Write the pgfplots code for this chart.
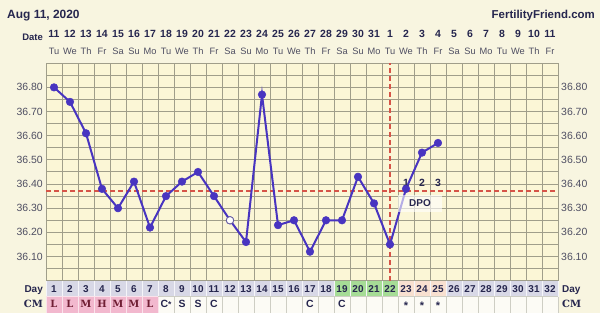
\documentclass[border=0pt]{standalone}
\usepackage{pgfplots}
\pgfplotsset{compat=1.18}
\usepackage{fontspec}
\setmainfont{Liberation Sans}
\newfontfamily\slab{DejaVu Serif}
\definecolor{bgc}{RGB}{248,245,224}
\definecolor{plotbg}{RGB}{251,246,214}
\definecolor{gridc}{RGB}{160,158,138}
\definecolor{linec}{RGB}{72,52,192}
\definecolor{redc}{RGB}{214,84,72}
\definecolor{navy}{RGB}{38,38,78}
\definecolor{grayt}{RGB}{78,78,98}
\definecolor{dayc}{RGB}{216,216,230}
\definecolor{greenc}{RGB}{166,220,150}
\definecolor{peachc}{RGB}{248,224,208}
\definecolor{pinkc}{RGB}{242,184,206}
\definecolor{cmw}{RGB}{252,251,245}
\definecolor{cellb}{RGB}{206,206,196}
\definecolor{maroon}{RGB}{112,30,52}
\begin{document}
\begin{tikzpicture}
\fill[bgc] (0,0) rectangle (600bp,313bp);
\path[use as bounding box] (0,0) rectangle (600bp,313bp);
\node[anchor=base west, inner sep=0, text=navy, font=\bfseries\fontsize{12}{14}\selectfont] at (7bp,294bp) {Aug 11, 2020};
\node[anchor=base east, inner sep=0, text=navy, font=\bfseries\fontsize{11.5}{14}\selectfont] at (595bp,294bp) {FertilityFriend.com};
% table rows (decoration)
\fill[dayc] (46bp,16.3bp) rectangle (558bp,32.3bp);
\fill[greenc] (334bp,16.3bp) rectangle (398bp,32.3bp);
\fill[peachc] (398bp,16.3bp) rectangle (446bp,32.3bp);
\fill[cmw] (46bp,0bp) rectangle (558bp,16.3bp);
\fill[pinkc] (46bp,0bp) rectangle (158bp,16.3bp);
\foreach \i in {0,...,32}{
  \draw[white!75!dayc, line width=0.9bp] ({46bp+16bp*\i},16.3bp) -- ({46bp+16bp*\i},32.3bp);
}
\foreach \i in {0,...,7}{
  \draw[white!60!pinkc, line width=0.9bp] ({46bp+16bp*\i},0bp) -- ({46bp+16bp*\i},16.3bp);
}
\foreach \i in {8,...,32}{
  \draw[cellb, line width=0.9bp] ({46bp+16bp*\i},0bp) -- ({46bp+16bp*\i},16.3bp);
}
\draw[cellb, line width=0.9bp] (158bp,16.3bp) -- (558bp,16.3bp);
\draw[white!60!pinkc, line width=0.9bp] (46bp,16.3bp) -- (158bp,16.3bp);
\begin{axis}[
  at={(46bp,32.3bp)}, anchor=south west,
  scale only axis, width=512bp, height=217.5bp,
  xmin=0.5, xmax=32.5, ymin=36, ymax=36.9,
  clip=false,
  axis background/.style={fill=plotbg},
  axis line style={draw=gridc, line width=1bp},
  xtick={0.5,1.5,...,32.5}, xticklabels={},
  ytick={36,36.05,...,36.9}, yticklabels={},
  major tick length=0,
  grid=major, grid style={draw=gridc, line width=1bp},
]
% reference lines
\addplot[redc, line width=2.4bp, dash pattern=on 5bp off 3bp] coordinates {(0.5,36.37) (32.5,36.37)};
\addplot[redc, line width=2.6bp, dash pattern=on 5bp off 3bp] coordinates {(22,36) (22,36.9)};
% temperatures
\addplot[linec, line width=2bp, mark=*, mark size=3.8bp, mark options={fill=linec, draw=linec, line width=0.5bp}] coordinates {
(1,36.80) (2,36.74) (3,36.61) (4,36.38) (5,36.30) (6,36.41) (7,36.22) (8,36.35)
(9,36.41) (10,36.45) (11,36.35) (12,36.25) (13,36.16) (14,36.77) (15,36.23) (16,36.25)
(17,36.12) (18,36.25) (19,36.25) (20,36.43) (21,36.32) (22,36.15) (23,36.38) (24,36.53) (25,36.57)
};
\addplot[only marks, mark=*, mark size=3.7bp, mark options={fill=white, draw=linec!45!gray, line width=0.8bp}] coordinates {(12,36.25)};
% DPO box and labels
\node[fill=white, fill opacity=0.6, text opacity=1, minimum width=44bp, minimum height=17bp, inner sep=0, text=navy, font=\bfseries\fontsize{10}{12}\selectfont] at (axis cs:23.875,36.32) {DPO};
\node[anchor=base, inner sep=0, text=navy, font=\bfseries\fontsize{10.5}{12}\selectfont] at ([yshift=4.7bp]axis cs:23,36.37) {1};
\node[anchor=base, inner sep=0, text=navy, font=\bfseries\fontsize{10.5}{12}\selectfont] at ([yshift=4.7bp]axis cs:24,36.37) {2};
\node[anchor=base, inner sep=0, text=navy, font=\bfseries\fontsize{10.5}{12}\selectfont] at ([yshift=4.7bp]axis cs:25,36.37) {3};
% y labels
\pgfplotsinvokeforeach{36.10,36.20,36.30,36.40,36.50,36.60,36.70,36.80}{
  \node[anchor=east, inner sep=0, text=grayt, font=\fontsize{10.5}{12}\selectfont] at ([xshift=-3bp]axis cs:0.5,#1) {#1};
  \node[anchor=west, inner sep=0, text=grayt, font=\fontsize{10.5}{12}\selectfont] at ([xshift=3bp]axis cs:32.5,#1) {#1};
}
\end{axis}
% top date rows
\node[anchor=base east, inner sep=0, text=navy, font=\bfseries\fontsize{9.5}{11}\selectfont] at (43bp,272bp) {Date};
\foreach \d/\n/\w in {1/11/Tu,2/12/We,3/13/Th,4/14/Fr,5/15/Sa,6/16/Su,7/17/Mo,8/18/Tu,9/19/We,10/20/Th,11/21/Fr,12/22/Sa,13/23/Su,14/24/Mo,15/25/Tu,16/26/We,17/27/Th,18/28/Fr,19/29/Sa,20/30/Su,21/31/Mo,22/1/Tu,23/2/We,24/3/Th,25/4/Fr,26/5/Sa,27/6/Su,28/7/Mo,29/8/Tu,30/9/We,31/10/Th,32/11/Fr}{
  \node[anchor=base, inner sep=0, text=navy, font=\bfseries\fontsize{10.5}{12}\selectfont] at ({38bp+16bp*\d},275.3bp) {\n};
  \node[anchor=base, inner sep=0, text=grayt, font=\fontsize{9.3}{11}\selectfont] at ({38bp+16bp*\d},258bp) {\w};
  \node[anchor=base, inner sep=0, text=navy, font=\bfseries\fontsize{10}{12}\selectfont] at ({38bp+16bp*\d},20.7bp) {\d};
}
% row labels
\node[anchor=base east, inner sep=0, text=navy, font=\bfseries\fontsize{10}{12}\selectfont] at (43bp,20.7bp) {Day};
\node[anchor=base west, inner sep=0, text=navy, font=\bfseries\fontsize{10}{12}\selectfont] at (562bp,20.7bp) {Day};
\node[anchor=base east, inner sep=0, text=navy, font=\slab\bfseries\fontsize{10}{12}\selectfont] at (43bp,5.5bp) {CM};
\node[anchor=base west, inner sep=0, text=navy, font=\slab\bfseries\fontsize{10}{12}\selectfont] at (562bp,5.5bp) {CM};
% CM entries
\foreach \d/\t in {1/L,2/L,3/M,4/H,5/M,6/M,7/L}{
  \node[anchor=base, inner sep=0, text=maroon, font=\slab\bfseries\fontsize{10}{12}\selectfont] at ({38bp+16bp*\d},5.5bp) {\t};
}
\foreach \d/\t in {9/S,10/S,11/C,17/C,19/C}{
  \node[anchor=base, inner sep=0, text=navy, font=\bfseries\fontsize{10.5}{12}\selectfont] at ({38bp+16bp*\d},5.5bp) {\t};
}
\node[anchor=base, inner sep=0, text=navy, font=\bfseries\fontsize{10.5}{12}\selectfont] at (166bp,5.5bp) {C{\fontsize{8.5}{9}\selectfont *}};
\foreach \d in {23,24,25}{
  \node[anchor=base, inner sep=0, text=navy, font=\bfseries\fontsize{11}{12}\selectfont] at ({38bp+16bp*\d},4bp) {*};
}
\end{tikzpicture}
\end{document}
